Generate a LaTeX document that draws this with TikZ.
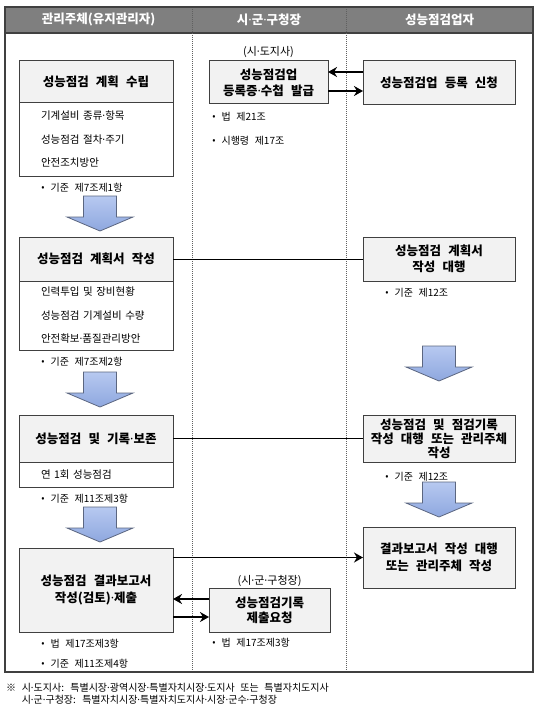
\documentclass[tikz,border=0pt]{standalone}
\usepackage{fontspec}
\setmainfont{Noto Sans CJK KR}[WordSpace=2.5]
\newfontfamily\latinfont{Noto Sans}
\newcommand{\kdot}{{\latinfont ·}}
\newcommand{\kbul}{{\latinfont •}}
\usepackage{tikz}
\usetikzlibrary{arrows.meta,positioning,calc}
\definecolor{flLine}{HTML}{404040}
\definecolor{flSoft}{HTML}{F2F2F2}
\definecolor{flHead}{HTML}{7F7F7F}
\definecolor{flBlueTop}{HTML}{B7C9F0}
\definecolor{flBlueBot}{HTML}{8EA7DF}
\definecolor{flBlueLine}{HTML}{5B6680}
\definecolor{flLane}{HTML}{606060}

\begin{document}
\begin{tikzpicture}[x=1pt,y=1pt,node distance=4pt and 4pt]
\tikzset{headcell/.style={rectangle, fill=flHead, text=white, minimum height=26pt, outer sep=0pt,
  inner sep=0pt, font=\bfseries\fontsize{12.5}{14}\selectfont},
 titlebox/.style={rectangle, draw=flLine, fill=flSoft, line width=1pt, outer sep=0pt, align=center,
  inner sep=2pt, font=\bfseries\fontsize{12.5}{15.5}\selectfont},
 listbox/.style={rectangle, draw=flLine, fill=white, line width=1pt, outer sep=0pt, align=left,
  inner xsep=22pt, inner ysep=2pt, text width=110pt, font=\fontsize{10.5}{23.5}\selectfont},
 lawnote/.style={inner sep=1pt, font=\fontsize{10}{11}\selectfont},
 govnote/.style={inner sep=1pt, font=\fontsize{11}{13}\selectfont},
 arr/.style={-{Stealth[length=9pt,width=10pt]}, line width=1.8pt, draw=black},
 link/.style={draw=black, line width=0.8pt},
 lane/.style={draw=flLane, line width=0.7pt, dash pattern=on 1pt off 1pt},
 pics/downflow/.style={code={\draw[draw=flBlueLine, line width=0.8pt, top color=flBlueTop, bottom color=flBlueBot]
   (-16.5,0) -- (16.5,0) -- (16.5,-21) -- (33,-21) -- (0,-35) -- (-33,-21) -- (-16.5,-21) -- cycle;}}}

\useasboundingbox (0,0) rectangle (545,-706);

% lanes
\node[headcell, minimum width=187pt] (h1) at (98.5,-20) {관리주체(유지관리자)};
\node[headcell, minimum width=154pt, right=0pt of h1] (h2) {시\kdot{}군\kdot{}구청장};
\node[headcell, minimum width=187pt, right=0pt of h2] (h3) {성능점검업자};
\coordinate (fb) at (0,-672);
\draw[flLine, line width=1.8pt] (h1.south west) -- (h3.south east);
\draw[lane] (h1.north east) -- (h1.north east |- fb);
\draw[lane] (h2.north east) -- (h2.north east |- fb);
\draw[flLine, line width=1.2pt] (h1.north west) rectangle (h3.east |- fb);

% 관리주체
\node[titlebox, minimum width=154pt, minimum height=42pt] (a1) at (96,-82) {성능점검 계획 수립};
\node[listbox, minimum height=73pt, below=0pt of a1] (a1list) {기계설비 종류\kdot{}항목\\성능점검 절차\kdot{}주기\\안전조치방안};
\node[lawnote, below right=6pt and 21pt of a1list.south west] (a1law) {\kbul{} 기준 제7조제1항};

\node[titlebox, minimum width=154pt, minimum height=44pt] (a2) at (96,-259) {성능점검 계획서 작성};
\node[listbox, minimum height=69pt, below=0pt of a2] (a2list) {인력투입 및 장비현황\\성능점검 기계설비 수량\\안전확보\kdot{}품질관리방안};
\node[lawnote, below right=6pt and 21pt of a2list.south west] (a2law) {\kbul{} 기준 제7조제2항};

\node[titlebox, minimum width=154pt, minimum height=47pt] (a3) at (96,-438.5) {성능점검 및 기록\kdot{}보존};
\node[listbox, minimum height=25pt, below=0pt of a3] (a3list) {연 1회 성능점검};
\node[lawnote, below right=6pt and 21pt of a3list.south west] (a3law) {\kbul{} 기준 제11조제3항};

\node[titlebox, minimum width=154pt, minimum height=84pt, font=\bfseries\fontsize{12.5}{16.5}\selectfont]
 (a4) at (96,-590) {성능점검 결과보고서\\작성(검토)\kdot{}제출};
\node[lawnote, below right=6pt and 21pt of a4.south west] (a4law1) {\kbul{} 법 제17조제3항};
\node[lawnote, below right=8pt and 0pt of a4law1.south west] (a4law2) {\kbul{} 기준 제11조제4항};

% 시·군·구청장
\node[titlebox, minimum width=119pt, minimum height=43pt, font=\bfseries\fontsize{12.5}{16}\selectfont]
 (m1) at (268.5,-82.5) {성능점검업\\등록증\kdot{}수첩 발급};
\node[govnote, above=2pt of m1] (m1gov) {(시\kdot{}도지사)};
\node[lawnote, below right=7pt and 2pt of m1.south west] (m1law1) {\kbul{} 법 제21조};
\node[lawnote, below right=13pt and 0pt of m1law1.south west] (m1law2) {\kbul{} 시행령 제17조};

\node[titlebox, minimum width=121pt, minimum height=44pt, font=\bfseries\fontsize{12.5}{15}\selectfont]
 (m2) at (269.5,-610) {성능점검기록\\제출요청};
\node[govnote, above=0pt of m2] (m2gov) {(시\kdot{}군\kdot{}구청장)};
\node[lawnote, below right=5pt and 2pt of m2.south west] (m2law) {\kbul{} 법 제17조제3항};

% 성능점검업자
\node[titlebox, minimum width=152pt, minimum height=44pt] (r1) at (439,-83) {성능점검업 등록 신청};
\node[titlebox, minimum width=152pt, minimum height=44pt] (r2) at (439,-259) {성능점검 계획서\\작성 대행};
\node[lawnote, below right=6pt and 21pt of r2.south west] (r2law) {\kbul{} 기준 제12조};
\node[titlebox, minimum width=152pt, minimum height=47pt, font=\bfseries\fontsize{12.5}{14}\selectfont]
 (r3) at (439,-438.5) {성능점검 및 점검기록\\작성 대행 또는 관리주체\\작성};
\node[lawnote, below right=9pt and 21pt of r3.south west] (r3law) {\kbul{} 기준 제12조};
\node[titlebox, minimum width=152pt, minimum height=61pt, font=\bfseries\fontsize{12.5}{17}\selectfont]
 (r4) at (439,-557.5) {결과보고서 작성 대행\\또는 관리주체 작성};

% flow
\pic at (100,-196) {downflow};
\pic at (100,-372) {downflow};
\pic at (100,-507) {downflow};
\pic at (439,-346) {downflow};
\pic at (439,-482) {downflow};

\coordinate (r1hi) at ($(r1.west)+(0,11)$);
\coordinate (m1lo) at ($(m1.east)+(0,-8.5)$);
\draw[arr] (r1hi) -- (r1hi -| m1.east);
\draw[arr] (m1lo) -- (m1lo -| r1.west);
\draw[link] (a2) -- (r2);
\draw[link] (a3) -- (r3);
\draw[arr] (a4.east |- r4.west) -- (r4.west);
\coordinate (m2hi) at ($(m2.west)+(0,11)$);
\coordinate (m2lo) at ($(m2.west)+(0,-7)$);
\draw[arr] (m2hi) -- (m2hi -| a4.east);
\draw[arr] (m2lo -| a4.east) -- (m2lo);

\node[anchor=north west, align=left, inner sep=1pt, font=\fontsize{10}{12}\selectfont] (foot) at (5,-682)
 {※ 시\kdot{}도지사: 특별시장\kdot{}광역시장\kdot{}특별자치시장\kdot{}도지사 또는 특별자치도지사\\\phantom{※ }시\kdot{}군\kdot{}구청장: 특별자치시장\kdot{}특별자치도지사\kdot{}시장\kdot{}군수\kdot{}구청장};
\end{tikzpicture}
\end{document}
